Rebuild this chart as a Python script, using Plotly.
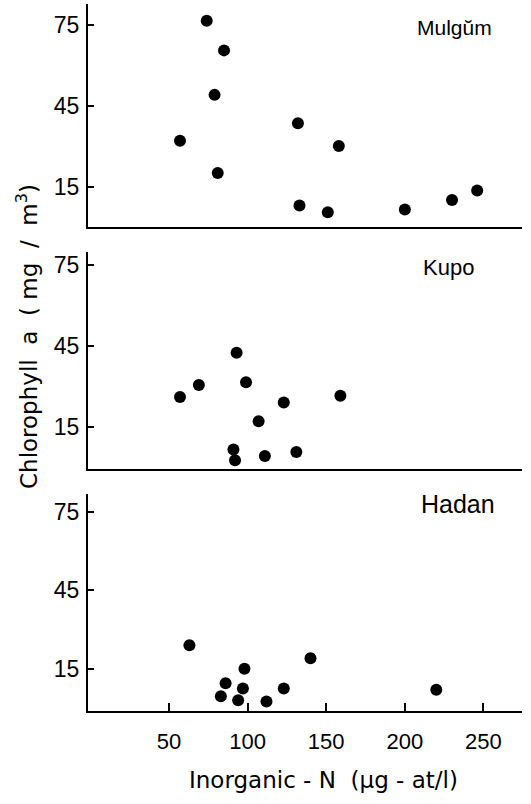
import plotly.graph_objects as go

# ---- data ----
mulgum_n = [74, 85, 79, 57, 81, 132, 158, 133, 151, 200, 230, 246]
mulgum_chl = [76.5, 65.5, 49, 32, 20, 38.5, 30, 8, 5.5, 6.5, 10, 13.5]

kupo_n = [93, 69, 57, 99, 123, 159, 107, 91, 92, 111, 131]
kupo_chl = [42.5, 30.5, 26, 31.5, 24, 26.5, 17, 6.5, 2.5, 4, 5.5]

hadan_n = [63, 98, 140, 86, 97, 83, 94, 112, 123, 220]
hadan_chl = [24, 15, 19, 9.5, 7.5, 4.5, 3, 2.5, 7.5, 7]

panel_names = ["Mulgŭm", "Kupo", "Hadan"]
y_ticks = [15, 45, 75]
x_ticks = [50, 100, 150, 200, 250]

W, H = 531, 804
def py(px):
    return 1 - px / H

fig = go.Figure()
series = [(mulgum_n, mulgum_chl), (kupo_n, kupo_chl), (hadan_n, hadan_chl)]
for i, (xs, ys) in enumerate(series):
    fig.add_trace(go.Scatter(
        x=xs, y=ys, mode="markers",
        marker=dict(color="black", size=12, line=dict(width=0)),
        xaxis="x" if i == 0 else f"x{i+1}",
        yaxis="y" if i == 0 else f"y{i+1}",
        showlegend=False,
    ))

xdom = [88 / W, 522 / W]
ydoms = [[py(227), py(4)], [py(469), py(252)], [py(710.7), py(494)]]
yranges = [[0, 82.7], [-0.8, 80], [-1, 81.7]]
font_tick = dict(family="Liberation Sans, Arial, sans-serif", size=23, color="black")

layout = dict(
    width=W, height=H,
    margin=dict(l=0, r=0, t=0, b=0),
    paper_bgcolor="white", plot_bgcolor="white",
    font=dict(family="Liberation Sans, Arial, sans-serif", color="black"),
)
for i in range(3):
    xk = "xaxis" if i == 0 else f"xaxis{i+1}"
    yk = "yaxis" if i == 0 else f"yaxis{i+1}"
    ya = "y" if i == 0 else f"y{i+1}"
    xa = "x" if i == 0 else f"x{i+1}"
    bottom = (i == 2)
    xdict = dict(
        domain=xdom, range=[-1.5, 274.5], anchor=ya,
        showline=True, linecolor="black", linewidth=2,
        showgrid=False, zeroline=False, automargin=False,
    )
    if bottom:
        xdict.update(tickvals=x_ticks, ticks="inside", ticklen=8, tickwidth=2,
                     tickcolor="black", showticklabels=True,
                     tickfont=dict(font_tick, size=22), ticklabelstandoff=10)
    else:
        xdict.update(ticks="", showticklabels=False)
    layout[xk] = xdict
    layout[yk] = dict(
        domain=ydoms[i], range=yranges[i], anchor=xa,
        showline=True, linecolor="black", linewidth=2,
        showgrid=False, zeroline=False,
        tickvals=y_ticks, ticks="inside", ticklen=6, tickwidth=2, tickcolor="black",
        tickfont=font_tick, automargin=False, ticklabelstandoff=2,
    )
fig.update_layout(**layout)

ann_pos = [(454, 28, 21), (448, 267, 22), (458, 504, 25)]
for name, (ax_, ay_, fs) in zip(panel_names, ann_pos):
    fig.add_annotation(text=name, x=ax_ / W, y=py(ay_), xref="paper", yref="paper",
                       showarrow=False, xanchor="center", yanchor="middle",
                       font=dict(size=fs, color="black"))

fig.add_annotation(text="Chlorophyll\u00a0\u00a0a\u00a0\u00a0(\u00a0mg\u00a0\u00a0/\u00a0\u00a0m<sup>3</sup>)",
                   x=27 / W, y=py(337), xref="paper", yref="paper",
                   showarrow=False, textangle=-90, xanchor="center", yanchor="middle",
                   font=dict(family="DejaVu Sans, sans-serif", size=23, color="black"))
fig.add_annotation(text="Inorganic\u00a0-\u00a0N\u00a0\u00a0(µg\u00a0-\u00a0at/l)",
                   x=323 / W, y=py(780), xref="paper", yref="paper",
                   showarrow=False, xanchor="center", yanchor="middle",
                   font=dict(family="DejaVu Sans, sans-serif", size=23, color="black"))

fig.write_html("out.html")
